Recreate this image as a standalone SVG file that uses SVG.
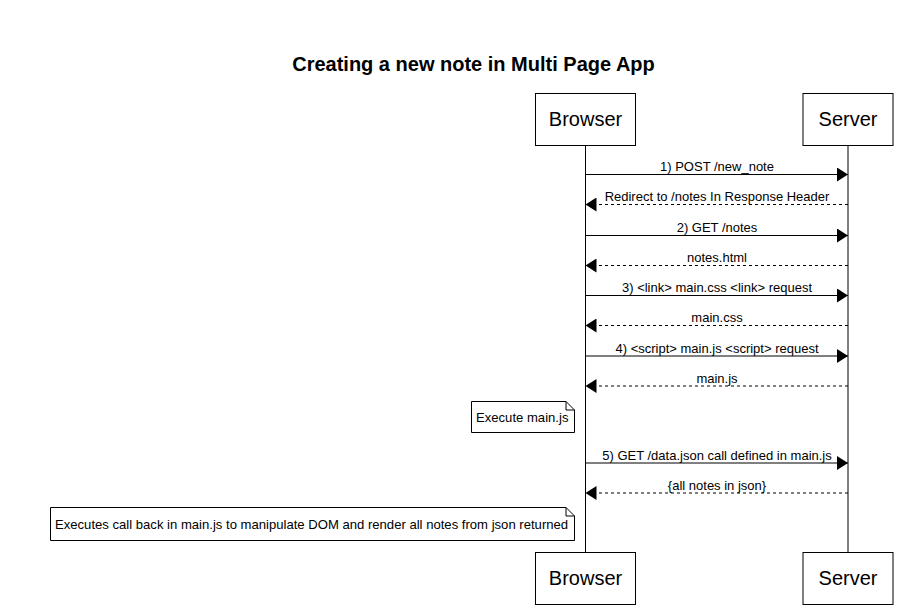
<svg xmlns="http://www.w3.org/2000/svg" width="901" height="613" viewBox="0 0 901 613">
<style>
  .actor rect { fill: #fff; stroke: #000; stroke-width: 1; }
  .actor text { font-family: "Liberation Sans", Arial, sans-serif; font-size: 20px; fill: #000; text-anchor: middle; }
  .life { stroke: #000; stroke-width: 1; }
  .msg { stroke: #000; stroke-width: 1; fill: none; }
  .dash { stroke-dasharray: 3 3; }
  .lbl { font-family: "Liberation Sans", Arial, sans-serif; font-size: 13px; fill: #000; text-anchor: middle; }
  .note path { fill: #fff; stroke: #000; stroke-width: 1; }
  .note text { font-family: "Liberation Sans", Arial, sans-serif; font-size: 13.1px; fill: #000; }
  .title { font-family: "Liberation Sans", Arial, sans-serif; font-size: 20px; font-weight: bold; fill: #000; text-anchor: middle; }
</style>
<defs>
  <marker id="ah" markerWidth="12" markerHeight="14" refX="11" refY="7" orient="auto" markerUnits="userSpaceOnUse">
    <path d="M0,0 L11,7 L0,14 z" fill="#000"/>
  </marker>
</defs>
<rect width="901" height="613" fill="#fff"/>
<text class="title" x="473.5" y="71">Creating a new note in Multi Page App</text>

<g id="lifelines">
  <line class="life" x1="585.5" y1="145" x2="585.5" y2="552"/>
  <line class="life" x1="848" y1="145" x2="848" y2="552"/>
</g>

<g id="browser-top" class="actor">
  <rect x="535.5" y="93.5" width="100" height="52"/>
  <text x="585.5" y="126">Browser</text>
</g>
<g id="server-top" class="actor">
  <rect x="803" y="93.5" width="90" height="52"/>
  <text x="848" y="126">Server</text>
</g>
<g id="browser-bottom" class="actor">
  <rect x="535.5" y="552.5" width="100" height="52"/>
  <text x="585.5" y="585">Browser</text>
</g>
<g id="server-bottom" class="actor">
  <rect x="803" y="552.5" width="90" height="52"/>
  <text x="848" y="585">Server</text>
</g>

<g id="connectors">
  <line class="msg" x1="585.5" y1="174.5" x2="848" y2="174.5" marker-end="url(#ah)"/>
  <text class="lbl" x="717" y="171">1) POST /new_note</text>
  <line class="msg dash" x1="848" y1="204.5" x2="585.5" y2="204.5" marker-end="url(#ah)"/>
  <text class="lbl" x="717" y="201">Redirect to /notes In Response Header</text>
  <line class="msg" x1="585.5" y1="235.5" x2="848" y2="235.5" marker-end="url(#ah)"/>
  <text class="lbl" x="717" y="232">2) GET /notes</text>
  <line class="msg dash" x1="848" y1="265.5" x2="585.5" y2="265.5" marker-end="url(#ah)"/>
  <text class="lbl" x="717" y="262">notes.html</text>
  <line class="msg" x1="585.5" y1="295.5" x2="848" y2="295.5" marker-end="url(#ah)"/>
  <text class="lbl" x="717" y="292">3) &lt;link&gt; main.css &lt;link&gt; request</text>
  <line class="msg dash" x1="848" y1="325.5" x2="585.5" y2="325.5" marker-end="url(#ah)"/>
  <text class="lbl" x="717" y="322">main.css</text>
  <line class="msg" x1="585.5" y1="356" x2="848" y2="356" marker-end="url(#ah)"/>
  <text class="lbl" x="717" y="353">4) &lt;script&gt; main.js &lt;script&gt; request</text>
  <line class="msg dash" x1="848" y1="386" x2="585.5" y2="386" marker-end="url(#ah)"/>
  <text class="lbl" x="717" y="383">main.js</text>
  <line class="msg" x1="585.5" y1="463" x2="848" y2="463" marker-end="url(#ah)"/>
  <text class="lbl" x="717" y="460">5) GET /data.json call defined in main.js</text>
  <line class="msg dash" x1="848" y1="493" x2="585.5" y2="493" marker-end="url(#ah)"/>
  <text class="lbl" x="717" y="490">{all notes in json}</text>
</g>

<g id="note-execute" class="note">
  <path d="M471.5,401.5 H566 L574.5,410 V432.5 H471.5 Z M566,401.5 V410 H574.5"/>
  <text x="476" y="422">Execute main.js</text>
</g>
<g id="note-callback" class="note">
  <path d="M50.5,507.5 H566 L574.5,516 V540.5 H50.5 Z M566,507.5 V516 H574.5"/>
  <text x="55" y="528.5">Executes call back in main.js to manipulate DOM and render all notes from json returned</text>
</g>
</svg>
